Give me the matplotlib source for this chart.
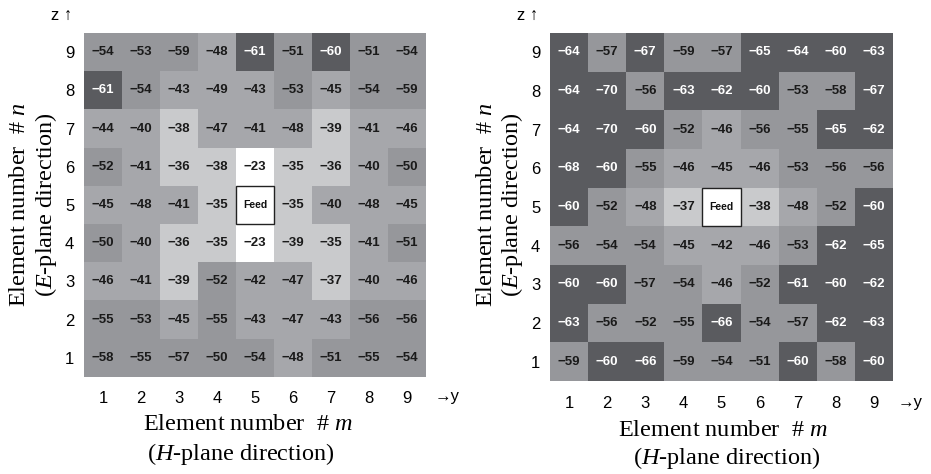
import numpy as np
import matplotlib
matplotlib.use("Agg")
import matplotlib.pyplot as plt
from matplotlib.colors import ListedColormap, BoundaryNorm
from matplotlib.patches import Rectangle

plt.rcParams["mathtext.fontset"] = "custom"
plt.rcParams["mathtext.rm"] = "Liberation Serif"
plt.rcParams["mathtext.it"] = "Liberation Serif:italic"

# Element indices along each axis
m_labels = [1, 2, 3, 4, 5, 6, 7, 8, 9]
n_labels = [1, 2, 3, 4, 5, 6, 7, 8, 9]

# Coupling (dB), rows listed from n = 9 (top) to n = 1 (bottom); None = feed element
coupling_a = [
    [-54, -53, -59, -48, -61, -51, -60, -51, -54],
    [-61, -54, -43, -49, -43, -53, -45, -54, -59],
    [-44, -40, -38, -47, -41, -48, -39, -41, -46],
    [-52, -41, -36, -38, -23, -35, -36, -40, -50],
    [-45, -48, -41, -35, None, -35, -40, -48, -45],
    [-50, -40, -36, -35, -23, -39, -35, -41, -51],
    [-46, -41, -39, -52, -42, -47, -37, -40, -46],
    [-55, -53, -45, -55, -43, -47, -43, -56, -56],
    [-58, -55, -57, -50, -54, -48, -51, -55, -54],
]
coupling_b = [
    [-64, -57, -67, -59, -57, -65, -64, -60, -63],
    [-64, -70, -56, -63, -62, -60, -53, -58, -67],
    [-64, -70, -60, -52, -46, -56, -55, -65, -62],
    [-68, -60, -55, -46, -45, -46, -53, -56, -56],
    [-60, -52, -48, -37, None, -38, -48, -52, -60],
    [-56, -54, -54, -45, -42, -46, -53, -62, -65],
    [-60, -60, -57, -54, -46, -52, -61, -60, -62],
    [-63, -56, -52, -55, -66, -54, -57, -62, -63],
    [-59, -60, -66, -59, -54, -51, -60, -58, -60],
]

# Grey levels per 10 dB band
level_edges = [-100, -59.5, -49.5, -39.5, -29.5, 0]
level_colors = ["#5a5b5f", "#96979b", "#a6a7ab", "#c9cacc", "#ffffff"]
cmap = ListedColormap(level_colors)
cmap.set_bad("#ffffff")
norm = BoundaryNorm(level_edges, cmap.N)

W, H = 931, 474
fig = plt.figure(figsize=(W / 100, H / 100), dpi=100)

sans = ["Liberation Sans", "DejaVu Sans"]
serif = ["Liberation Serif", "DejaVu Serif"]


def draw_panel(rect, data, tick_pad_x):
    ax = fig.add_axes(rect)
    arr = np.array([[np.nan if v is None else v for v in row] for row in data], dtype=float)
    ax.imshow(np.ma.masked_invalid(arr), cmap=cmap, norm=norm, aspect="auto",
              interpolation="nearest")
    nr, nc = arr.shape
    for i in range(nr):
        for j in range(nc):
            v = arr[i, j]
            if np.isnan(v):
                ax.add_patch(Rectangle((j - 0.5, i - 0.5), 1, 1, fill=False,
                                       edgecolor="#222222", linewidth=1.0, zorder=3))
                ax.text(j, i, "Feed", ha="center", va="center", fontsize=7.5,
                        fontweight="bold", family=sans, color="#111111")
            else:
                col = "white" if v <= -59.5 else "#1a1a1a"
                ax.text(j, i, f"\u2212{abs(int(v))}", ha="center", va="center",
                        fontsize=9.5, fontweight="bold", family=sans, color=col)
    ax.set_xticks(range(nc))
    ax.set_xticklabels([str(v) for v in m_labels], family=sans, fontsize=12)
    ax.set_yticks(range(nr))
    ax.set_yticklabels([str(v) for v in n_labels[::-1]], family=sans, fontsize=12)
    ax.tick_params(axis="both", length=0)
    ax.tick_params(axis="x", pad=tick_pad_x)
    ax.tick_params(axis="y", pad=7)
    for s in ax.spines.values():
        s.set_visible(False)
    ax.set_xlim(-0.5, nc - 0.5)
    ax.set_ylim(nr - 0.5, -0.5)
    return ax


def px_rect(x0, y0, x1, y1):
    return [x0 / W, 1 - y1 / H, (x1 - x0) / W, (y1 - y0) / H]


ax1 = draw_panel(px_rect(84, 33, 426, 377), coupling_a, 10)
ax2 = draw_panel(px_rect(550, 33, 893, 381), coupling_b, 11)

# Axis direction markers
for ax, zx, yx, yy in [(ax1, 62, 447, 396), (ax2, 528, 910, 402)]:
    fig.text(zx / W, 1 - 15 / H, "z \u2191", ha="center", va="center",
             fontsize=12, family=sans)
    fig.text(yx / W, 1 - yy / H, "\u2192y", ha="center", va="center",
             fontsize=12, family=sans)

# Axis titles
for cx1, cx2, y1, y2, yl1, yl2 in [(248, 241, 425, 454, 20, 46),
                                   (723, 727, 430, 458, 486, 512)]:
    fig.text(cx1 / W, 1 - y1 / H, r"Element number  # $\it{m}$", ha="center",
             va="center", fontsize=17.5, family=serif)
    fig.text(cx2 / W, 1 - y2 / H, r"($\it{H}$-plane direction)", ha="center",
             va="center", fontsize=17.5, family=serif)
    fig.text(yl1 / W, 1 - 205 / H, r"Element number  # $\it{n}$", ha="center",
             va="center", rotation=90, fontsize=17.5, family=serif)
    fig.text(yl2 / W, 1 - 205 / H, r"($\it{E}$-plane direction)", ha="center",
             va="center", rotation=90, fontsize=17.5, family=serif)

fig.savefig("out.png", dpi=100)
